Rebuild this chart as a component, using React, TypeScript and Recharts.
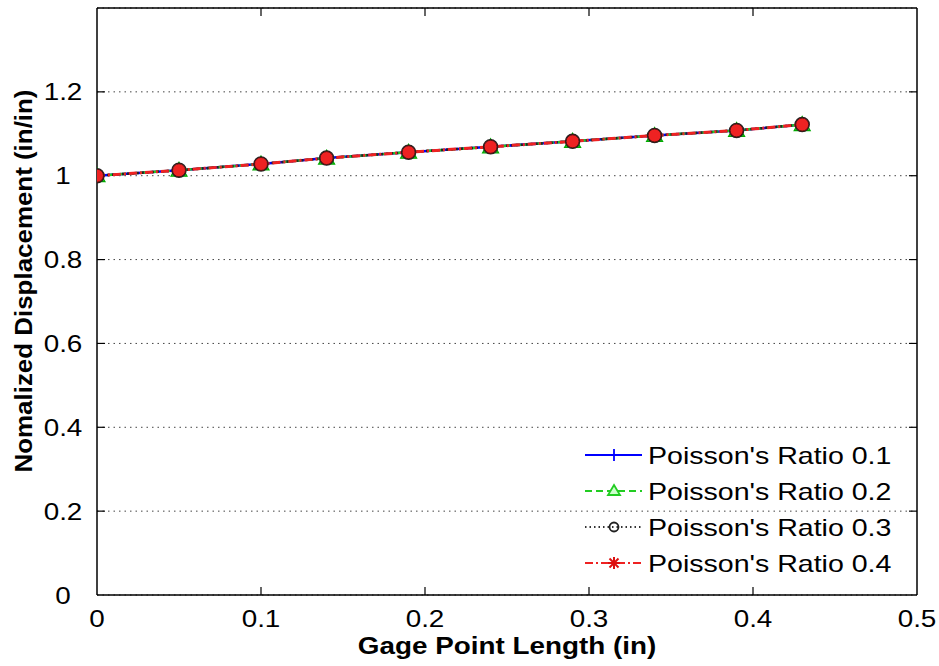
import React from 'react';
import { LineChart, Line, XAxis, YAxis, CartesianGrid, Legend, Label, ReferenceLine } from 'recharts';

const gageLength = [0, 0.05, 0.1, 0.14, 0.19, 0.24, 0.29, 0.34, 0.39, 0.43];
const ratio01 = [1.0, 1.013, 1.028, 1.042, 1.056, 1.069, 1.082, 1.096, 1.108, 1.122];
const ratio02 = [1.0, 1.013, 1.028, 1.042, 1.056, 1.069, 1.082, 1.096, 1.108, 1.122];
const ratio03 = [1.0, 1.013, 1.028, 1.042, 1.056, 1.069, 1.082, 1.096, 1.108, 1.122];
const ratio04 = [1.0, 1.013, 1.028, 1.042, 1.056, 1.069, 1.082, 1.096, 1.108, 1.122];
const seriesNames = ["Poisson's Ratio 0.1", "Poisson's Ratio 0.2", "Poisson's Ratio 0.3", "Poisson's Ratio 0.4"];
const xTicks = [0, 0.1, 0.2, 0.3, 0.4, 0.5];
const xTickLabels = ['0', '0.1', '0.2', '0.3', '0.4', '0.5'];
const yTicks = [0, 0.2, 0.4, 0.6, 0.8, 1, 1.2, 1.4];
const yTickLabels = ['0', '0.2', '0.4', '0.6', '0.8', '1', '1.2', ''];

const X_MIN = 0;
const X_MAX = 0.5;
const Y_MIN = 0;
const Y_MAX = 1.4;
// tick mark lengths expressed in data units (~8px)
const TICK_DX = 0.0049;
const TICK_DY = 0.019;

const data = gageLength.map((x, i) => ({
  x,
  r1: ratio01[i],
  r2: ratio02[i],
  r3: ratio03[i],
  r4: ratio04[i],
}));

const FONT = '"Liberation Sans", Arial, Helvetica, sans-serif';
const SX = 1.16;

const XTick = (props: any) => {
  const { x, y, payload } = props;
  const i = xTicks.indexOf(payload.value);
  return (
    <g transform={`translate(${x},${y}) scale(${SX},1)`}>
      <text x={0} y={0} dy="0.71em" textAnchor="middle" fontSize={24} fontFamily={FONT} fill="#000">
        {i >= 0 ? xTickLabels[i] : String(payload.value)}
      </text>
    </g>
  );
};

const YTick = (props: any) => {
  const { x, y, payload } = props;
  const i = yTicks.indexOf(payload.value);
  return (
    <g transform={`translate(${x},${y}) scale(${SX},1)`}>
      <text x={0} y={0} dy="0.355em" textAnchor="middle" fontSize={24} fontFamily={FONT} fill="#000">
        {i >= 0 ? yTickLabels[i] : String(payload.value)}
      </text>
    </g>
  );
};

const PlusDot = (props: any) => {
  const { cx, cy, index } = props;
  if (cx == null || cy == null) return <g key={index} />;
  return (
    <g key={`p${index}`}>
      <line x1={cx - 7} y1={cy} x2={cx + 7} y2={cy} stroke="#0000ff" strokeWidth={1.5} />
      <line x1={cx} y1={cy - 7} x2={cx} y2={cy + 7} stroke="#0000ff" strokeWidth={1.5} />
    </g>
  );
};

const TriDot = (props: any) => {
  const { cx, cy, index } = props;
  if (cx == null || cy == null) return <g key={index} />;
  return (
    <path key={`t${index}`} d={`M${cx},${cy - 8} L${cx + 8},${cy + 6} L${cx - 8},${cy + 6} Z`} fill="#33cc33" stroke="#00aa00" strokeWidth={1.2} />
  );
};

const CircDot = (props: any) => {
  const { cx, cy, index } = props;
  if (cx == null || cy == null) return <g key={index} />;
  return <circle key={`c${index}`} cx={cx} cy={cy} r={7} fill="none" stroke="#222" strokeWidth={1.5} />;
};

const RedDot = (props: any) => {
  const { cx, cy, index } = props;
  if (cx == null || cy == null) return <g key={index} />;
  return <circle key={`r${index}`} cx={cx} cy={cy} r={6.5} fill="#ee2222" stroke="#551111" strokeWidth={1} />;
};

const legendStyles = [
  { color: '#0000ff', dash: undefined, marker: 'plus' },
  { color: '#22cc22', dash: '7 4', marker: 'tri' },
  { color: '#333333', dash: '1.5 3', marker: 'circ' },
  { color: '#ee2222', dash: '8 3 2 3', marker: 'star' },
];

const LegendMarker = ({ kind, cx, cy }: { kind: string; cx: number; cy: number }) => {
  if (kind === 'plus') {
    return (
      <g>
        <line x1={cx - 6} y1={cy} x2={cx + 6} y2={cy} stroke="#0000ff" strokeWidth={1.8} />
        <line x1={cx} y1={cy - 6} x2={cx} y2={cy + 6} stroke="#0000ff" strokeWidth={1.8} />
      </g>
    );
  }
  if (kind === 'tri') {
    return <path d={`M${cx},${cy - 6} L${cx + 6},${cy + 4} L${cx - 6},${cy + 4} Z`} fill="#ccffcc" stroke="#22cc22" strokeWidth={1.8} />;
  }
  if (kind === 'circ') {
    return <circle cx={cx} cy={cy} r={4.5} fill="none" stroke="#222" strokeWidth={1.8} />;
  }
  const r = 6;
  return (
    <g stroke="#dd1111" strokeWidth={2}>
      <line x1={cx - r} y1={cy} x2={cx + r} y2={cy} />
      <line x1={cx} y1={cy - r} x2={cx} y2={cy + r} />
      <line x1={cx - 4.5} y1={cy - 4.5} x2={cx + 4.5} y2={cy + 4.5} />
      <line x1={cx - 4.5} y1={cy + 4.5} x2={cx + 4.5} y2={cy - 4.5} />
    </g>
  );
};

const renderLegend = (props: any) => {
  const payload = (props.payload || []).slice(0, 4);
  const rowY = [20, 56, 92, 128];
  return (
    <svg width={340} height={150} style={{ display: 'block', overflow: 'visible' }}>
      {payload.map((entry: any, i: number) => {
        const st = legendStyles[i];
        const y = rowY[i];
        return (
          <g key={`leg${i}`}>
            <line x1={7} y1={y} x2={64} y2={y} stroke={st.color} strokeWidth={2} strokeDasharray={st.dash} />
            <LegendMarker kind={st.marker} cx={36} cy={y} />
            <g transform={`translate(70,${y}) scale(1.19,1)`}>
              <text x={0} y={0} dy="0.36em" fontSize={24} fontFamily={FONT} fill="#000">
                {entry.value}
              </text>
            </g>
          </g>
        );
      })}
    </svg>
  );
};

const tickStroke = { stroke: '#000', strokeWidth: 1.2 };

export default function App() {
  return (
    <div style={{ position: 'absolute', left: 0, top: 0, width: 939, height: 666, background: '#fff' }}>
      <LineChart width={939} height={666} data={data} margin={{ top: 8, right: 22, bottom: 0, left: 0 }}>
        <CartesianGrid vertical={false} stroke="#444" strokeDasharray="1.5 4" />
        <XAxis
          dataKey="x"
          type="number"
          domain={[X_MIN, X_MAX]}
          ticks={xTicks}
          height={71}
          tickLine={false}
          tickMargin={9}
          tick={<XTick />}
          axisLine={{ stroke: '#000', strokeWidth: 1.5 }}
          allowDataOverflow
        >
          <Label
            content={(p: any) => {
              const vb = p.viewBox || { x: 97, y: 595, width: 820, height: 71 };
              const cx = vb.x + vb.width / 2;
              return (
                <g transform={`translate(${cx},${vb.y + 59}) scale(${SX},1)`}>
                  <text x={0} y={0} textAnchor="middle" fontSize={24} fontWeight="bold" fontFamily={FONT} fill="#000">
                    Gage Point Length (in)
                  </text>
                </g>
              );
            }}
          />
        </XAxis>
        <YAxis
          type="number"
          domain={[Y_MIN, Y_MAX]}
          ticks={yTicks}
          width={97}
          tickLine={false}
          tickMargin={28}
          tick={<YTick />}
          axisLine={{ stroke: '#000', strokeWidth: 1.5 }}
          interval={0}
        >
          <Label
            content={() => (
              <g transform={`translate(32,281) rotate(-90) scale(1.08,1)`}>
                <text x={0} y={0} textAnchor="middle" fontSize={24} fontWeight="bold" fontFamily={FONT} fill="#000">
                  Nomalized Displacement (in/in)
                </text>
              </g>
            )}
          />
        </YAxis>
        <ReferenceLine y={Y_MAX} stroke="#000" strokeWidth={1.5} ifOverflow="visible" />
        <ReferenceLine x={X_MAX} stroke="#000" strokeWidth={1.5} ifOverflow="visible" />
        {xTicks.slice(1, -1).map((t) => (
          <ReferenceLine key={`bt${t}`} segment={[{ x: t, y: Y_MIN }, { x: t, y: Y_MIN + TICK_DY }]} {...tickStroke} ifOverflow="visible" />
        ))}
        {xTicks.slice(1, -1).map((t) => (
          <ReferenceLine key={`tt${t}`} segment={[{ x: t, y: Y_MAX }, { x: t, y: Y_MAX - TICK_DY }]} {...tickStroke} ifOverflow="visible" />
        ))}
        {yTicks.slice(1, -1).map((t) => (
          <ReferenceLine key={`lt${t}`} segment={[{ x: X_MIN, y: t }, { x: X_MIN + TICK_DX, y: t }]} {...tickStroke} ifOverflow="visible" />
        ))}
        {yTicks.slice(1, -1).map((t) => (
          <ReferenceLine key={`rt${t}`} segment={[{ x: X_MAX, y: t }, { x: X_MAX - TICK_DX, y: t }]} {...tickStroke} ifOverflow="visible" />
        ))}
        <Legend
          content={renderLegend}
          layout="vertical"
          align="center"
          verticalAlign="middle"
          wrapperStyle={{ position: 'absolute', left: 578, top: 435, width: 340, height: 150 }}
        />
        <Line dataKey="r1" name={seriesNames[0]} stroke="#0000ff" strokeWidth={2.5} dot={PlusDot} isAnimationActive={false} />
        <Line dataKey="r2" name={seriesNames[1]} stroke="#22cc22" strokeWidth={2.5} strokeDasharray="7 4" dot={TriDot} isAnimationActive={false} />
        <Line dataKey="r3" name={seriesNames[2]} stroke="#222222" strokeWidth={2.5} strokeDasharray="2 3" dot={CircDot} isAnimationActive={false} />
        <Line dataKey="r4" name={seriesNames[3]} stroke="#ee2222" strokeWidth={3} strokeDasharray="8 3 2 3" dot={RedDot} isAnimationActive={false} />
      </LineChart>
    </div>
  );
}
